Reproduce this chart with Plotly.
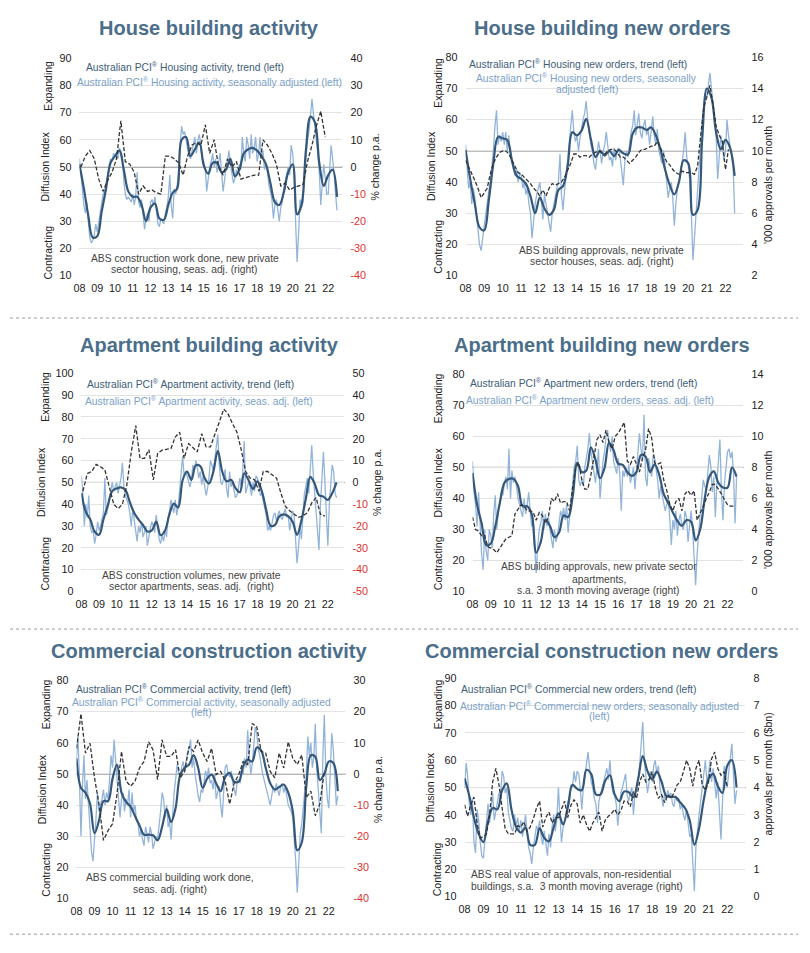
import pandas as pd
import plotly.graph_objects as go

W, H = 810, 953
FONT = "Liberation Sans, Arial, Helvetica, sans-serif"
TITLE_C = "#4b6e8b"
TREND_C = "#34577a"
SA_C = "#93b4da"
ABS_C = "#333333"
TREND_TXT = "#3e5d78"
SA_TXT = "#7c9fcb"
ABS_TXT = "#444444"
GRID_C = "#e3e3e3"
RED = "#e0312f"

# ---------------- data ----------------
year_labels = ["08", "09", "10", "11", "12", "13", "14", "15", "16", "17", "18", "19", "20", "21", "22"]

# House building activity
house_act_trend = [51, 42, 32, 24, 24.5, 33.5, 42, 51.5, 54, 56, 49, 41, 39, 39, 36, 30,
                   35, 36.5, 31, 30.5, 36, 40.5, 42, 60, 61, 54, 56.5, 59, 50.5, 47.5, 51.5, 51.5,
                   48, 49, 53, 46.5, 49, 55, 56.5, 57, 56, 54, 51, 44, 37, 36, 40.5, 48,
                   51, 32.5, 36, 56.5, 68.5, 66.5, 51.5, 43, 47, 49, 39]
house_act_sa = [53, 47, 40, 36, 33, 37, 30, 24, 22, 23, 25, 29,
                26, 30, 33, 36, 40, 41, 44, 46, 50, 53, 52, 55,
                54, 55, 53, 57, 56, 54, 45, 40, 38, 39, 38, 37,
                40, 36, 39, 48, 37, 35, 38, 33, 27, 31, 33, 30,
                37, 38, 36, 39, 33, 29, 28, 31, 30, 29, 33, 35,
                39, 47, 36, 31, 42, 40, 43, 49, 58, 65, 62, 63,
                60, 56, 54, 53, 56, 58, 61, 55, 60, 62, 57, 53,
                52, 49, 41, 46, 50, 52, 55, 50, 53, 48, 52, 55,
                48, 41, 45, 50, 52, 56, 51, 47, 44, 46, 49, 47,
                51, 49, 61, 55, 52, 61, 58, 53, 62, 55, 57, 61,
                52, 55, 61, 53, 56, 49, 51, 48, 43, 41, 38, 31,
                36, 38, 34, 30, 35, 37, 42, 45, 48, 50, 47, 58,
                55, 48, 30, 15, 25, 38, 35, 37, 47, 55, 60, 63,
                68, 75, 70, 65, 62, 55, 48, 36, 44, 51, 46, 40,
                40, 50, 58, 53, 48, 40, 34]
house_act_abs = [0, 4, 6, 3, -4.5, -9, -5, -2, 3, 17, 2, 1, -2, -10, -7, -9,
                 -8.5, -9.5, -10, 4, 4, 3, 1.5, -3, 4, 8, 9, 8, 15.5, 5, 10, 0,
                 -3, 3, 0, 2, -4.5, -4, -3.5, -3, -3, 10, 8, 5, 1, -7, -6, -8.5,
                 -7.5, -7, -6.5, 2, 8, 15, 20.5, 11]

# House building new orders
house_ord_trend = [50.3, 41, 33, 25.5, 24.5, 34, 46, 54.5, 54, 53.5, 47, 42, 41, 39.5, 35.5, 30,
                   35, 31.5, 29.5, 31, 37.5, 38.7, 45, 56, 55, 56.5, 60.3, 53.8, 48, 50, 48.5, 50,
                   48.3, 50.3, 49.2, 48.8, 55.5, 57.5, 57.5, 56.7, 57.5, 55, 50.5, 44, 39, 36, 40, 47,
                   46, 29.5, 31, 54, 70, 67, 56, 50.5, 53.5, 51, 42]
house_ord_sa = [52, 45, 38, 40, 33, 38, 35, 30, 25, 20, 18, 22,
                25, 30, 33, 37, 40, 45, 50, 58, 63, 52, 55, 53,
                56, 52, 56, 50, 55, 48, 46, 44, 42, 44, 40, 43,
                42, 38, 40, 36, 38, 33, 30, 22, 28, 33, 36, 38,
                40, 34, 28, 36, 33, 30, 27, 24, 30, 33, 35, 38,
                40, 49, 36, 31, 37, 42, 45, 52, 58, 63, 56, 53,
                55, 50, 54, 58, 60, 62, 66, 60, 55, 52, 50, 46,
                44, 48, 53, 50, 46, 50, 52, 56, 50, 47, 48, 45,
                51, 47, 50, 51, 48, 44, 39, 47, 50, 48, 52, 56,
                58, 63, 55, 58, 62, 56, 54, 58, 60, 55, 57, 52,
                56, 61, 55, 52, 57, 50, 48, 46, 50, 45, 40, 35,
                38, 40, 35, 26, 33, 38, 40, 43, 46, 50, 56, 48,
                45, 40, 30, 15, 22, 30, 38, 45, 55, 60, 65, 68,
                67, 72, 75, 70, 65, 58, 55, 41, 50, 55, 52, 47,
                50, 60, 55, 52, 49, 45, 30]
house_ord_abs = [9.4, 9.0, 8.6, 8.1, 7.6, 7.0,
                 7.3, 7.6, 8.5, 9.2, 9.6, 9.9,
                 10.0, 10.0, 9.8, 9.4, 8.9, 8.6,
                 8.5, 8.3, 8.1, 7.9, 7.6, 7.4,
                 7.1, 7.5, 7.1, 7.6, 7.9, 7.8,
                 7.9, 8.0, 8.3, 8.7, 9.2, 9.8,
                 9.8, 9.6, 9.7, 9.7, 9.6, 9.8,
                 9.9, 10.0, 9.9, 9.8, 10.0, 10.1,
                 10.1, 9.9, 9.6, 9.6, 9.4, 9.2,
                 9.4, 9.6, 9.9, 10.1, 10.1, 10.2,
                 10.3, 10.3, 10.6, 10.2, 9.8, 9.3,
                 9.1, 8.8, 8.6, 8.5, 8.7, 8.6,
                 8.6, 8.6, 8.5, 9.0, 11.0, 12.8,
                 13.5, 14.2, 13.0, 11.6, 11.0, 10.6,
                 8.8, 10.1]

# Apartment building activity
apt_act_trend = [45.2, 36.5, 33.1, 27.5, 26, 33, 39.5, 46, 47.2, 47.7, 46.5, 41, 36, 33, 30.5, 27.5,
                 28, 32, 25.8, 28, 35.5, 40.3, 38.5, 51, 55, 51.2, 57.8, 57.5, 52, 49.5, 55, 64.5,
                 55, 50.5, 51.2, 47.5, 45.5, 54.2, 51, 47, 50.5, 46, 37.5, 30.1, 30.5, 34.5, 35.4, 34.5,
                 32, 26, 32.5, 42.5, 52.5, 49.5, 44.2, 43.5, 42, 45, 50]
apt_act_sa = [53, 44, 30, 40, 34, 44, 30, 27, 28, 22, 26, 32,
              28, 30, 33, 36, 52, 35, 38, 42, 47, 50, 46, 48,
              50, 45, 48, 52, 59, 48, 44, 42, 40, 36, 30, 38,
              33, 28, 23, 30, 27, 32, 25, 27, 30, 21, 26, 29,
              32, 30, 27, 35, 30, 24, 22, 26, 23, 28, 25, 33,
              37, 42, 39, 36, 42, 35, 39, 48, 55, 62, 53, 55,
              53, 50, 48, 51, 58, 55, 60, 57, 52, 55, 49, 53,
              49, 44, 47, 52, 60, 58, 55, 60, 66, 72, 58, 50,
              49, 52, 56, 47, 43, 55, 48, 50, 46, 43, 44, 47,
              52, 48, 55, 69, 45, 47, 50, 48, 44, 50, 46, 53,
              52, 48, 44, 45, 42, 38, 35, 28, 30, 28, 32, 35,
              36, 32, 35, 37, 34, 33, 36, 38, 34, 35, 28, 32,
              37, 35, 25, 13, 20, 30, 24, 38, 45, 48, 52, 45,
              55, 67, 55, 45, 38, 30, 19, 40, 52, 64, 50, 35,
              21, 40, 50, 58, 55, 45, 43]
apt_act_abs = [-4, 4, 5, 8.3, 7.2, 5.7, -2, -10, -12, -10, -1, 14, 26, 11, 11, 15,
               1.2, 13.3, 14.8, 15, 15.5, 20.8, 23, 11, 17.8, 16, 14, 22.3, 16.3, 16.3, 21.6, 27.6,
               33.6, 31.4, 27, 23, 14.8, 5, 2, 1.2, -4, 5, 5, 3.5, 2, -4.8, -10.9, -13,
               -14.5, -16, -15.4, -13.9, -9.4, -7, -14.6, -15.4]

# Apartment building new orders
apt_ord_trend = [48.2, 38, 32, 25, 25.5, 31, 38.5, 45, 46.3, 46.3, 44, 37.5, 37.5, 35, 22.5, 26,
                 33, 31.2, 27.5, 29, 34.5, 34, 40.5, 51.5, 48.5, 49, 56.5, 52.5, 46.5, 49.8, 58, 55.5,
                 51.2, 50.8, 48.5, 47.3, 48.5, 54, 53.5, 48.5, 51, 47.7, 41.5, 38.5, 35.5, 32.8, 31.2, 33,
                 32.5, 26.5, 30, 40, 47, 48.7, 45, 43.5, 43.5, 50, 47]
apt_ord_sa = [52, 42, 38, 31, 42, 29, 22, 17, 30, 23, 20, 30,
              28, 24, 35, 41, 30, 36, 38, 42, 41, 45, 47, 43,
              56, 40, 49, 45, 47, 44, 40, 38, 36, 34, 40, 35,
              38, 42, 36, 31, 34, 24, 16, 25, 30, 32, 36, 30,
              35, 31, 34, 30, 27, 24, 30, 26, 28, 32, 36, 34,
              37, 33, 38, 29, 35, 40, 45, 50, 52, 57, 46, 44,
              46, 44, 50, 53, 56, 61, 55, 52, 48, 45, 50, 56,
              40, 47, 52, 55, 60, 62, 58, 55, 60, 52, 50, 48,
              53, 48, 36, 49, 47, 50, 47, 51, 45, 48, 50, 43,
              50, 55, 61, 56, 52, 67, 47, 44, 53, 50, 47, 54,
              53, 49, 46, 40, 44, 41, 39, 36, 38, 40, 33, 25,
              33, 30, 36, 28, 33, 35, 31, 30, 36, 34, 26, 32,
              36, 30, 20, 12, 22, 30, 35, 40, 46, 44, 43, 48,
              54, 50, 42, 47, 34, 45, 53, 59, 42, 33, 45, 49,
              55, 56, 53, 55, 48, 32, 47]
apt_ord_abs = [4.8, 4.0, 3.9, 3.6, 3.6, 2.9,
               2.8, 2.7, 2.5, 2.8, 3.1, 3.4,
               3.5, 3.6, 5.0, 5.3, 5.6, 5.5,
               5.2, 5.2, 5.1, 4.6, 5.1, 4.9,
               4.4, 4.8, 6.0, 5.8, 6.3, 5.7,
               5.8, 5.8, 5.2, 6.7, 8.0, 8.3,
               7.2, 6.6, 6.6, 7.5, 8.6, 9.8,
               10.1, 9.6, 10.4, 9.6, 9.2, 10.0,
               10.2, 10.6, 10.9, 8.4, 8.2, 8.7,
               8.2, 7.7, 8.6, 9.1, 10.5, 9.9,
               8.3, 8.2, 8.3, 7.2, 6.5, 5.6,
               5.2, 5.8, 6.0, 5.2, 6.3, 6.5,
               6.2, 6.5, 4.6, 5.0, 5.5, 6.0,
               6.4, 6.9, 6.9, 6.6, 6.3, 5.9,
               5.6, 5.5, 5.5]

# Commercial construction activity
comm_act_trend = [55, 45.5, 44, 40.5, 31, 35, 41.3, 41.3, 48.5, 53, 44, 41, 39.5, 36.5, 33.5, 30.5,
                  30.5, 30.3, 28.7, 33, 38.7, 34.5, 39, 49.5, 52, 53, 56, 52, 45.5, 48.5, 49.8, 47,
                  44.5, 49, 50.3, 47.5, 47.5, 52.5, 54.5, 54, 58.5, 57.5, 52, 47, 45, 45.8, 46.6, 44,
                  38, 25.5, 28, 46, 56, 55.5, 48, 50, 54, 53.5, 44.5]
comm_act_sa = [55, 62, 48, 30, 46, 56, 42, 48, 40, 33, 25, 22,
               28, 36, 44, 38, 40, 42, 45, 40, 44, 42, 48, 56,
               52, 61, 55, 48, 44, 36, 42, 44, 38, 42, 40, 45,
               36, 44, 38, 40, 35, 34, 30, 32, 29, 27, 33, 30,
               28, 33, 31, 26, 28, 30, 29, 33, 38, 44, 42, 36,
               40, 33, 35, 29, 38, 44, 48, 53, 50, 49, 52, 54,
               51, 55, 57, 58, 61, 52, 55, 50, 46, 43, 41, 45,
               44, 48, 51, 49, 52, 47, 48, 45, 50, 42, 44, 46,
               40, 36, 44, 52, 53, 50, 49, 51, 47, 45, 43, 48,
               48, 47, 51, 50, 55, 52, 64, 56, 50, 53, 60, 65,
               63, 58, 56, 52, 50, 48, 46, 44, 42, 40, 43, 46,
               44, 47, 45, 43, 46, 47, 44, 46, 43, 40, 39, 38,
               36, 30, 22, 12, 20, 31, 34, 40, 45, 50, 62, 56,
               60, 52, 55, 66, 52, 45, 40, 31, 55, 69, 50, 42,
               39, 50, 63, 58, 50, 40, 43]
comm_act_abs = [8.2, 19.3, 6.7, 9.8, -1.3, -9.7, -21.3, -18.2, -16, -6.5, 7.2, -2.3, -3.9, -2.3, 1.9, 4,
                10.3, 7.7, -1.8, 10.9, 5.6, 5.6, 7.7, -1.3, 0.8, 8.8, 7.2, 10.9, 6.7, 4, 8.2, -0.2,
                0.8, -2.3, -9.7, -2.9, -0.2, 4, 3, 16.2, 15.1, 7.2, 6.7, 0.8, -1.3, 6.7, 1.9, 10.3,
                5, 3, 6.1, -7.6, -5.5, -13.4, -9.7, 0.8]

# Commercial construction new orders
comm_ord_trend = [53.4, 47, 39, 33, 30, 37.5, 42.5, 42, 49, 51.5, 42, 35.5, 33.5, 35.3, 29, 29,
                  35, 31.5, 30.3, 35.5, 40.5, 36.5, 42.5, 51, 49.5, 49, 56.5, 55, 47.5, 47.5, 52.5, 54.5,
                  47.5, 45, 48.5, 48.3, 46.5, 53, 61.5, 56, 53, 55.8, 52.2, 47, 46.6, 46.5, 44.5, 42.5,
                  38, 29, 35, 45.5, 53, 55, 50.5, 48, 58, 60, 50]
comm_ord_sa = [50, 59, 54, 44, 40, 46, 30, 26, 42, 38, 30, 25,
               24, 30, 36, 44, 37, 43, 48, 38, 42, 44, 48, 47,
               56, 54, 48, 50, 41, 38, 35, 34, 40, 36, 39, 34,
               38, 32, 35, 40, 33, 28, 26, 22, 28, 33, 36, 34,
               38, 32, 29, 34, 30, 25, 33, 28, 36, 40, 34, 38,
               50, 40, 30, 35, 38, 40, 45, 44, 51, 50, 56, 52,
               56, 55, 50, 42, 50, 55, 60, 63, 57, 52, 50, 46,
               44, 37, 45, 48, 50, 52, 55, 57, 53, 60, 51, 48,
               47, 44, 36, 42, 48, 50, 53, 55, 47, 45, 48, 50,
               40, 48, 50, 52, 58, 65, 74, 60, 55, 48, 52, 56,
               52, 58, 60, 55, 58, 50, 47, 43, 48, 45, 49, 47,
               48, 44, 43, 47, 45, 46, 42, 44, 40, 38, 42, 36,
               32, 33, 22, 12, 28, 35, 40, 45, 50, 55, 60, 52,
               55, 60, 52, 57, 50, 46, 52, 40, 31, 45, 58, 52,
               50, 56, 60, 66, 55, 44, 49]
comm_ord_abs = [3.37, 2.95, 3.37, 3.65, 2.7, 2.15,
                2.2, 2.3, 3.0, 4.2, 4.7, 4.1,
                3.25, 2.5, 2.3, 2.3, 2.3, 2.6,
                2.55, 2.75, 2.4, 2.55, 2.85, 3.25,
                3.5, 2.55, 2.9, 3.1, 2.7, 2.9,
                2.9, 3.2, 3.5, 2.9, 3.35, 3.55,
                3.4, 2.7, 3.0, 2.65, 2.4, 2.7,
                2.9, 3.1, 2.4, 2.8, 2.95, 3.05,
                3.2, 3.0, 3.15, 3.5, 3.5, 3.3,
                3.85, 3.6, 4.2, 4.5, 4.2, 4.3,
                4.58, 4.0, 3.6, 3.75, 3.45, 3.74,
                3.6, 3.8, 4.1, 4.2, 4.58, 5.0,
                4.7, 4.05, 4.7, 5.0, 4.1, 3.9,
                4.2, 5.05, 5.3, 4.7, 4.45, 4.58,
                4.05]

# ---------------- dates ----------------
months = pd.date_range("2008-01-01", periods=len(house_act_sa), freq="MS")
quarters = pd.date_range("2008-01-01", periods=len(house_act_trend), freq="QS")


def mid_quarters(v):
    return pd.date_range("2008-02-01", periods=len(v), freq="3MS")


def start_quarters(v):
    return pd.date_range("2008-01-01", periods=len(v), freq="QS")


def bimonthly(v):
    return pd.date_range("2008-01-01", periods=len(v), freq="2MS")


def yr_to_date(v):
    return pd.Timestamp("2008-01-01") + pd.to_timedelta((v - 2008.0) * 365.25, unit="D")


SUP = "PCI<sup>®</sup>"

panels = [
    dict(title="House building activity", t=(205, 22),
         x0=74, x1=339, ppy=17.9, yt=53, yb=273, L=(10, 90, 10), R=(-40, 40, 10), red=True,
         rtitle="% change p.a.", rt=(373, 167), lab_x=42, lab_y=(81, 165, 250),
         trend=house_act_trend, sa=house_act_sa, abs=house_act_abs, absd=mid_quarters(house_act_abs),
         texts=[(180, 61, f"Australian {SUP} Housing activity, trend (left)", TREND_TXT, "center"),
                (205, 76, f"Australian {SUP} Housing activity, seasonally adjusted (left)", SA_TXT, "center"),
                (180, 256, "ABS construction work done, new private", ABS_TXT, "center"),
                (180, 267, "sector housing, seas. adj. (right)", ABS_TXT, "center")]),
    dict(title="House building new orders", t=(601, 22),
         x0=463, x1=743, ppy=18.7, yt=52, yb=273, L=(10, 80, 10), R=(2, 16, 2), red=False,
         rtitle="'000 approvals per month", rt=(767, 181), lab_x=435, lab_y=(78, 165, 244),
         trend=house_ord_trend, sa=house_ord_sa, abs=house_ord_abs, absd=bimonthly(house_ord_abs),
         texts=[(576, 58, f"Australian {SUP} Housing new orders, trend (left)", TREND_TXT, "center"),
                (585, 72.5, f"Australian {SUP} Housing new orders, seasonally", SA_TXT, "center"),
                (585, 84.5, "adjusted (left)", SA_TXT, "center"),
                (600, 248, "ABS building approvals, new private", ABS_TXT, "center"),
                (600, 258.5, "sector houses, seas. adj. (right)", ABS_TXT, "center")]),
    dict(title="Apartment building activity", t=(205, 343),
         x0=76, x1=341, ppy=17.73, yt=372, yb=593, L=(0, 100, 10), R=(-50, 50, 10), red=True,
         rtitle="% change p.a.", rt=(372, 485), lab_x=39, lab_y=(396, 482, 565),
         trend=apt_act_trend, sa=apt_act_sa, abs=apt_act_abs, absd=mid_quarters(apt_act_abs),
         texts=[(185.5, 382, f"Australian {SUP} Apartment activity, trend (left)", TREND_TXT, "center"),
                (194.7, 400, f"Australian {SUP} Apartment activity, seas. adj. (left)", SA_TXT, "center"),
                (186.5, 576.7, "ABS construction volumes, new private", ABS_TXT, "center"),
                (186.5, 588.3, "sector apartments, seas. adj.  (right)", ABS_TXT, "center")]),
    dict(title="Apartment building new orders", t=(600, 343),
         x0=470, x1=743, ppy=18.35, yt=373, yb=593, L=(10, 80, 10), R=(0, 14, 2), red=False,
         rtitle="'000 approvals per month", rt=(767, 510), lab_x=436, lab_y=(397.5, 483, 564.5),
         trend=apt_ord_trend, sa=apt_ord_sa, abs=apt_ord_abs, absd=bimonthly(apt_ord_abs),
         texts=[(582, 381.7, f"Australian {SUP} Apartment new orders, trend (left)", TREND_TXT, "center"),
                (588, 399, f"Australian {SUP} Apartment new orders, seas. adj. (left)", SA_TXT, "center"),
                (597, 567.7, "ABS building approvals, new private sector", ABS_TXT, "center"),
                (597, 580.5, "apartments,", ABS_TXT, "center"),
                (597, 592.3, "s.a. 3 month moving average (right)", ABS_TXT, "center")]),
    dict(title="Commercial construction activity", t=(205, 653),
         x0=71, x1=342, ppy=18.16, yt=683, yb=904, L=(10, 80, 10), R=(-40, 30, 10), red=True,
         rtitle="% change p.a.", rt=(373, 797), lab_x=40, lab_y=(707.5, 792, 875),
         trend=comm_act_trend, sa=comm_act_sa, abs=comm_act_abs, absd=start_quarters(comm_act_abs),
         texts=[(179, 691.7, f"Australian {SUP} Commercial activity, trend (left)", TREND_TXT, "center"),
                (196.7, 704, f"Australian {SUP} Commercial activity, seasonally adjusted", SA_TXT, "center"),
                (196.7, 716, "(left)", SA_TXT, "center"),
                (165.5, 882.3, "ABS commercial building work done,", ABS_TXT, "center"),
                (165.5, 895, "seas. adj. (right)", ABS_TXT, "center")]),
    dict(title="Commercial construction new orders", t=(600, 653),
         x0=462, x1=745, ppy=18.9, yt=681, yb=902, L=(10, 90, 10), R=(0, 8, 1), red=False,
         rtitle="approvals per month ($bn)", rt=(768, 778), lab_x=435, lab_y=(707.5, 797, 874.5),
         trend=comm_ord_trend, sa=comm_ord_sa, abs=comm_ord_abs, absd=bimonthly(comm_ord_abs),
         texts=[(576.7, 690.7, f"Australian {SUP} Commercial new orders, trend (left)", TREND_TXT, "center"),
                (598.3, 708.3, f"Australian {SUP} Commercial new orders, seasonally adjusted", SA_TXT, "center"),
                (598.3, 720, "(left)", SA_TXT, "center"),
                (466, 880, "ABS real value of approvals, non-residential", ABS_TXT, "left"),
                (466, 891.7, "buildings, s.a.  3 month moving average (right)", ABS_TXT, "left")]),
]

fig = go.Figure()
annotations = []
shapes = []
layout_axes = {}


def px_x(x):
    return x / W


def px_y(y):
    return 1 - y / H


def add_text(x, y, text, size, color, angle=0, anchor="center", bold=False):
    annotations.append(dict(
        x=px_x(x), y=px_y(y), xref="paper", yref="paper", text=f"<b>{text}</b>" if bold else text,
        showarrow=False, xanchor=anchor, yanchor="middle", textangle=angle,
        font=dict(family=FONT, size=size, color=color)))


tickfont = dict(family=FONT, size=10.8, color="#222222")
labfont = dict(family=FONT, size=10.5, color="#222222")

for i, p in enumerate(panels, start=1):
    xn = "x" if i == 1 else f"x{i}"
    xa = "xaxis" if i == 1 else f"xaxis{i}"
    li, ri = 2 * i - 1, 2 * i
    yln = "y" if li == 1 else f"y{li}"
    yla = "yaxis" if li == 1 else f"yaxis{li}"
    yrn, yra = f"y{ri}", f"yaxis{ri}"

    end = yr_to_date(2008 + (p["x1"] - p["x0"]) / p["ppy"])
    layout_axes[xa] = dict(
        domain=[px_x(p["x0"]), px_x(p["x1"])], anchor=yln, type="date",
        range=[pd.Timestamp("2008-01-01"), end],
        tickvals=[pd.Timestamp(f"{2008 + k}-01-01") for k in range(len(year_labels))],
        ticktext=year_labels, showgrid=False, zeroline=False, showline=False, ticks="",
        tickfont=tickfont, ticklabelstandoff=5)
    lo, hi, st = p["L"]
    layout_axes[yla] = dict(
        domain=[px_y(p["yb"]), px_y(p["yt"])], anchor=xn, range=[lo, hi],
        tickvals=list(range(lo, hi + 1, st)), showgrid=True, gridcolor=GRID_C, gridwidth=1,
        zeroline=False, showline=False, ticks="", tickfont=tickfont, ticklabelstandoff=7,
        title=dict(text="Diffusion Index", font=labfont, standoff=7))
    rlo, rhi, rst = p["R"]
    rvals = list(range(rlo, rhi + 1, rst))
    rtext = [f"<span style='color:{RED}'>{v}</span>" if (p["red"] and v < 0) else str(v) for v in rvals]
    layout_axes[yra] = dict(
        overlaying=yln, side="right", anchor=xn, range=[rlo, rhi], tickvals=rvals, ticktext=rtext,
        showgrid=False, zeroline=False, showline=False, ticks="", tickfont=tickfont, ticklabelstandoff=7)
    if p["red"]:
        layout_axes[yra]["title"] = dict(text=p["rtitle"], font=labfont, standoff=6)
    else:
        add_text(p["rt"][0], p["rt"][1], p["rtitle"], 10.5, "#222222", angle=-90)

    fig.add_trace(go.Scatter(x=months, y=p["sa"], mode="lines", xaxis=xn, yaxis=yln,
                             line=dict(color=SA_C, width=1.3), showlegend=False, hoverinfo="skip"))
    fig.add_trace(go.Scatter(x=quarters, y=p["trend"], mode="lines", xaxis=xn, yaxis=yln,
                             line=dict(color=TREND_C, width=2.2, shape="spline", smoothing=1.0),
                             showlegend=False, hoverinfo="skip"))
    fig.add_trace(go.Scatter(x=p["absd"], y=p["abs"], mode="lines", xaxis=xn, yaxis=yrn,
                             line=dict(color=ABS_C, width=1.3, dash="4px,2px"),
                             showlegend=False, hoverinfo="skip"))

    shapes.append(dict(type="line", xref=f"{xn} domain", x0=0, x1=1, yref=yln, y0=50, y1=50,
                       line=dict(color="#4d4d4d", width=1), layer="below"))

    add_text(p["t"][0], p["t"][1], p["title"], 20, TITLE_C, bold=True)
    ey, dy, cy = p["lab_y"]
    add_text(p["lab_x"], ey, "Expanding", 10.5, "#222222", angle=-90)
    add_text(p["lab_x"], cy, "Contracting", 10.5, "#222222", angle=-90)
    for (tx, ty, txt, col, anc) in p["texts"]:
        add_text(tx, ty, txt, 10.3, col, anchor=anc)

# dotted separators between the rows
for sy in (316, 631, 940):
    shapes.append(dict(type="line", xref="paper", yref="paper", x0=px_x(4), x1=px_x(798),
                       y0=px_y(sy), y1=px_y(sy), line=dict(color="#9a9a9a", width=1, dash="dot")))

fig.update_layout(
    width=W, height=H, autosize=False, margin=dict(l=0, r=0, t=0, b=0),
    paper_bgcolor="white", plot_bgcolor="white", showlegend=False, hovermode=False,
    font=dict(family=FONT, color="#222222"),
    annotations=annotations, shapes=shapes, **layout_axes)

fig.write_html("out.html", config={"displayModeBar": False, "staticPlot": True},
               post_script="document.body.style.margin='0px';document.body.style.overflow='hidden';")
